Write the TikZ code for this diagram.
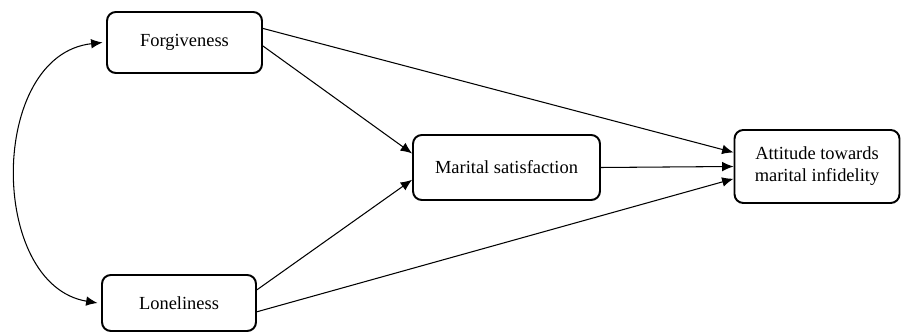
\documentclass[tikz,border=0pt]{standalone}
\usepackage{fontspec}
\setmainfont{Liberation Serif}
\usepackage{tikz}
\usetikzlibrary{arrows, arrows.meta, positioning}

\tikzset{
  varbox/.style={draw, line width=1.1pt, rounded corners=5pt, align=center,
    font=\fontsize{10.5}{12.5}\selectfont},
  path/.style={-{Latex[length=6.5pt,width=5.5pt]}, line width=0.6pt}
}

\begin{document}
\begin{tikzpicture}[x=0.02cm, y=-0.02cm]
  \useasboundingbox (0,0) rectangle (903,333);
  % variables
  \node[varbox, minimum width=3.1cm, minimum height=1.22cm] (forg) at (184.5,42.5) {Forgiveness};
  \node[varbox, minimum width=3.08cm, minimum height=1.12cm] (lone) at (179,303) {Loneliness};
  \node[varbox, minimum width=3.74cm, minimum height=1.3cm] (msat) at (506.5,167.5) {Marital satisfaction};
  \node[varbox, minimum width=3.3cm, minimum height=1.46cm] (attd) at (817,166.5) {Attitude towards\\marital infidelity};
  % correlation
  \draw[{Latex[length=6.5pt,width=5.5pt]}-{Latex[length=6.5pt,width=5.5pt]}, line width=0.6pt]
    ([xshift=-2pt]lone.west) .. controls (-12,285) and (-12,55) .. ([xshift=-2pt]forg.west);
  % paths
  \draw[path] ([yshift=8pt]forg.east) -- ([yshift=8pt]attd.west);
  \draw[path] ([yshift=-2pt]forg.east) -- ([yshift=8pt]msat.west);
  \draw[path] ([yshift=7.5pt]lone.east) -- ([yshift=-7pt]msat.west);
  \draw[path] ([yshift=-5pt]lone.east) -- ([yshift=-7pt]attd.west);
  \draw[path] (msat.east) -- (attd.west);
\end{tikzpicture}
\end{document}
